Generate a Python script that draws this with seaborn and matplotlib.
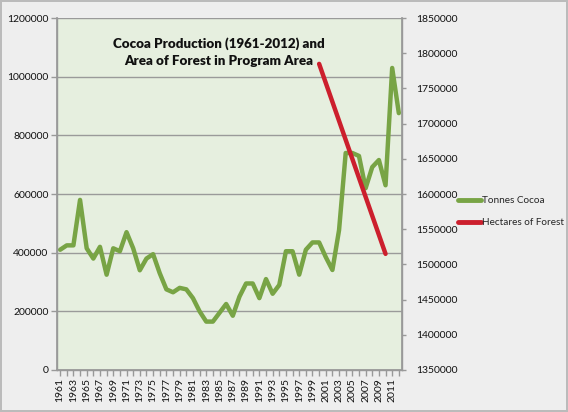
import pandas as pd
import matplotlib.pyplot as plt
import seaborn as sns

years = list(range(1961, 2013))
cocoa = [410000, 425000, 425000, 580000, 415000, 380000, 420000, 325000, 415000, 405000,
         470000, 415000, 340000, 380000, 395000, 330000, 275000, 265000, 280000, 275000,
         245000, 200000, 165000, 165000, 195000, 225000, 185000, 250000, 295000, 295000,
         245000, 310000, 260000, 290000, 405000, 405000, 325000, 410000, 435000, 435000,
         385000, 341000, 477000, 740000, 740000, 730000, 620000, 692000, 716000, 630000,
         1030000, 876000]
forest_years = [2000, 2010]
forest = [1785000, 1515000]

left_ticks = list(range(0, 1200001, 200000))
right_ticks = list(range(1350000, 1850001, 50000))

sns.set_theme(style="white")
plt.rcParams['font.family'] = ['Lato', 'DejaVu Sans']

fig = plt.figure(figsize=(5.68, 4.12), dpi=100, facecolor='#EEEEEE')
fig.patch.set_edgecolor('#BBBBBB')
fig.patch.set_linewidth(1.5)

ax = fig.add_axes([0.100, 0.102, 0.608, 0.854])
ax.set_facecolor('#E6EFDF')

cocoa_df = pd.DataFrame({'Year': years, 'Tonnes Cocoa': cocoa})
forest_df = pd.DataFrame({'Year': forest_years, 'Hectares of Forest': forest})

sns.lineplot(data=cocoa_df, x='Year', y='Tonnes Cocoa', ax=ax, color='#78A445',
             linewidth=3.2, legend=False)
ax.set_xlim(1960.5, 2012.5)
ax.set_ylim(0, 1200000)
ax.set_yticks(left_ticks)
ax.set_yticklabels([str(v) for v in left_ticks], fontsize=7.5)
ax.set_xticks(years)
ax.set_xticklabels([str(y) if (y - 1961) % 2 == 0 else '' for y in years],
                   rotation=90, fontsize=7.5)
ax.yaxis.grid(True, color='#9A9A9A', linewidth=1)
ax.set_axisbelow(True)
ax.tick_params(axis='both', direction='out', length=4, width=1, color='#999999',
               colors='#111111', pad=2)
ax.tick_params(axis='both', bottom=True, left=True)
ax.set_xlabel('')
ax.set_ylabel('')
for s in ax.spines.values():
    s.set_color('#999999')
    s.set_linewidth(1)
ax.spines['top'].set_visible(False)

ax2 = ax.twinx()
sns.lineplot(data=forest_df, x='Year', y='Hectares of Forest', ax=ax2, color='#CC1F2D',
             linewidth=3.2, legend=False)
ax2.set_ylim(1350000, 1850000)
ax2.set_yticks(right_ticks)
ax2.set_yticklabels([str(v) for v in right_ticks], fontsize=7.5)
ax2.tick_params(axis='y', right=True, direction='out', length=3, width=1,
                color='#999999', colors='#111111', pad=7)
ax2.set_ylabel('')
for s in ax2.spines.values():
    s.set_color('#999999')
ax2.spines['top'].set_visible(False)

ax.text(0.47, 0.947, 'Cocoa Production (1961-2012) and\nArea of Forest in Program Area',
        transform=ax.transAxes, ha='center', va='top', fontsize=9.6,
        fontweight='heavy', linespacing=1.55, color='#111111')

handles = [ax.get_lines()[0], ax2.get_lines()[0]]
leg = fig.legend(handles, ['Tonnes Cocoa', 'Hectares of Forest'],
                 loc='upper left', bbox_to_anchor=(0.79, 0.545), frameon=False,
                 fontsize=7.2, handlelength=2.3, handletextpad=0.1, labelspacing=1.3)
for line in leg.get_lines():
    line.set_linewidth(3.5)

fig.savefig('out.png', dpi=100, facecolor=fig.get_facecolor())
